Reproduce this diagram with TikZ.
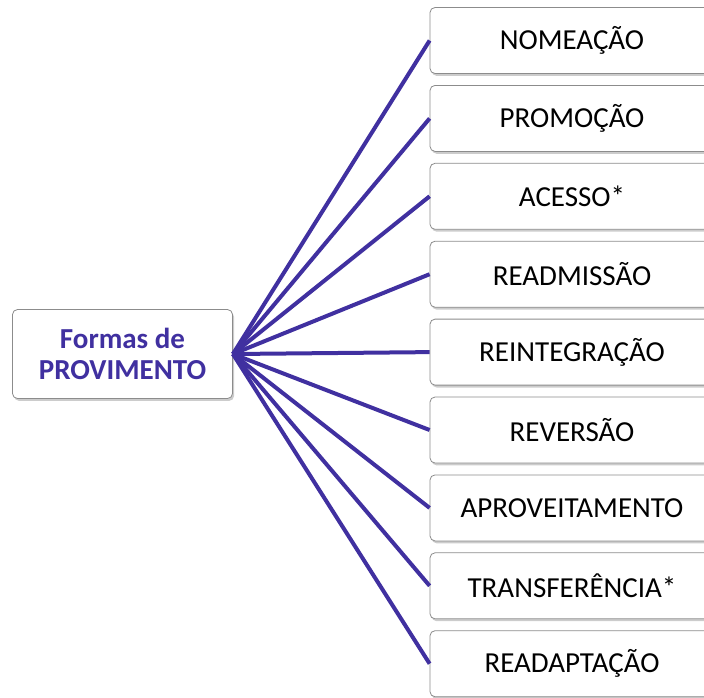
\documentclass[tikz,border=0pt]{standalone}
\usepackage{fontspec}
\setmainfont{Carlito}
\usepackage{tikz}
\usetikzlibrary{shadows}
\definecolor{provpurple}{RGB}{64,48,160}

\begin{document}
\begin{tikzpicture}
  [x=0.5pt,y=-0.5pt,
   every node/.style={rectangle,
                      rounded corners=2.5pt,
                      thin,
                      draw=black!45,
                      fill=white,
                      inner sep=3pt,
                      font=\fontsize{14.5}{15.5}\selectfont,
                      drop shadow={opacity=0.4,shadow xshift=.8pt,shadow yshift=-1.2pt}
                      },
   root/.style={minimum width=110pt,minimum height=44.5pt,
                align=center,text=provpurple,font=\fontsize{14.5}{15.5}\selectfont\bfseries},
   forma/.style={minimum width=142pt,minimum height=33pt},
   link/.style={draw=provpurple,line width=2pt}]
  \clip (0,0) rectangle (704,697);
  \node[root] (prov) at (122.5,354) {Formas de\\PROVIMENTO};
  \foreach \txt [count=\i] in {NOMEAÇÃO,PROMOÇÃO,ACESSO*,READMISSÃO,REINTEGRAÇÃO,
                               REVERSÃO,APROVEITAMENTO,TRANSFERÊNCIA*,READAPTAÇÃO}
  {
    \node[forma] (f\i) at (572,{40.5+(\i-1)*77.9}) {\txt};
    \draw[link] (prov.east) -- (f\i.west);
  }
\end{tikzpicture}
\end{document}
